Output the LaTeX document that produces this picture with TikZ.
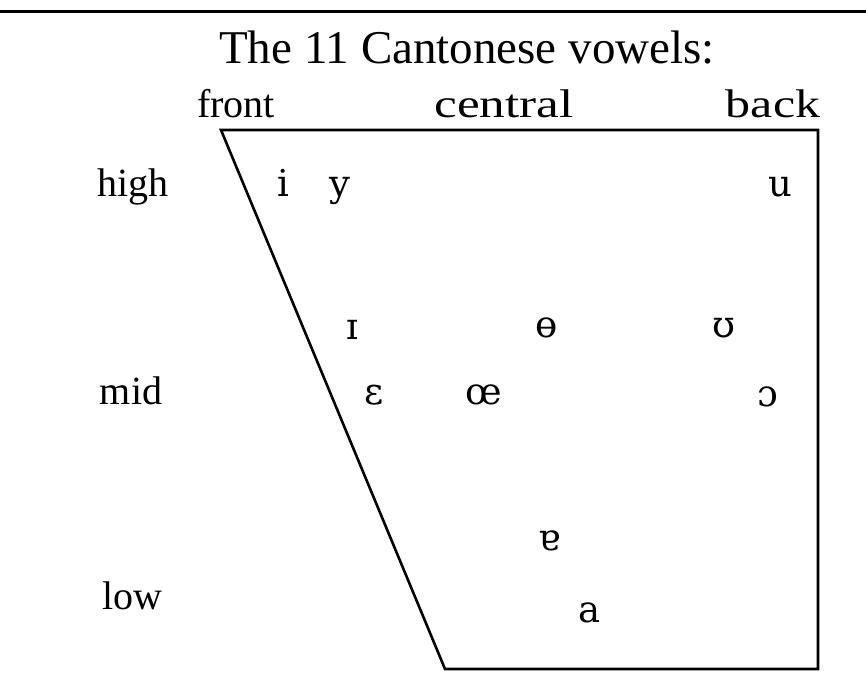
\documentclass[tikz,border=0pt]{standalone}
\usepackage{fontspec}
\setmainfont{Liberation Serif}
\newfontfamily\ipafont{DejaVu Serif}
\begin{document}
\begin{tikzpicture}[x=1pt,y=-1pt,
  lbl/.style={font=\fontsize{40}{44}\selectfont, anchor=base, inner sep=0pt},
  vow/.style={font=\ipafont\fontsize{37}{40}\selectfont, anchor=base, inner sep=0pt},
  ttl/.style={font=\fontsize{47}{50}\selectfont, anchor=base, inner sep=0pt},
  edge/.style={line width=2.6pt, line join=miter}]
\useasboundingbox (0,0) rectangle (866,695);
\coordinate (L0) at (0,12);
\coordinate (L1) at (866,12);
\draw[line width=3pt] (L0) -- (L1);
\node[ttl] (title) at (467,64) {The 11 Cantonese vowels:};
\node[lbl] (front) at (236,118) {front};
\node[lbl] (central) at (504,118) {\scalebox{1.28}[1]{central}};
\node[lbl] (back) at (773,118) {\scalebox{1.25}[1]{back}};
\node[lbl] (high) at (133,196) {high};
\node[lbl] (mid) at (131,404) {mid};
\node[lbl] (low) at (132,609) {low};
\coordinate (TL) at (221,130);
\coordinate (TR) at (818,130);
\coordinate (BR) at (818,669);
\coordinate (BL) at (445,669);
\draw[edge] (TL) -- (TR) -- (BR) -- (BL) -- cycle;
\node[vow] (vi) at (283,196) {i};
\node[vow] (vy) at (340,196) {y};
\node[vow] (vu) at (780,196) {u};
\node[vow] (vI) at (352,339) {ɪ};
\node[vow] (vo) at (547,337) {ɵ};
\node[vow] (vU) at (724,337) {ʊ};
\node[vow] (ve) at (374,404) {ɛ};
\node[vow] (voe) at (484,404) {œ};
\node[vow] (vO) at (768,406) {ɔ};
\node[vow] (vA) at (550,550) {ɐ};
\node[vow] (va) at (590,622) {a};
\end{tikzpicture}
\end{document}
